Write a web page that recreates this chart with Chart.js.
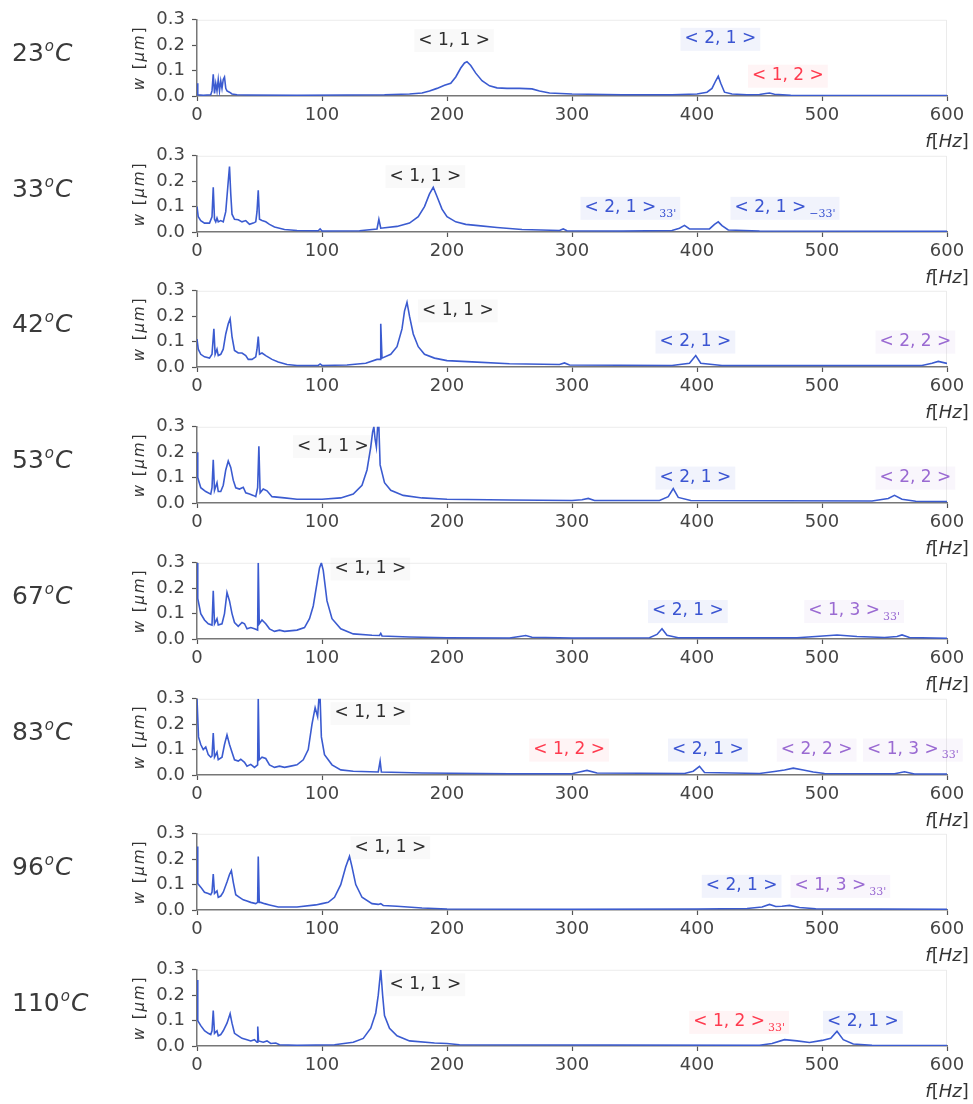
<!DOCTYPE html>
<html>
<head>
<meta charset="utf-8">
<script src="https://cdn.jsdelivr.net/npm/chart.js@4.4.0/dist/chart.umd.min.js"></script>
<style>
  body { margin: 0; background: #fff; }
  #wrap { position: relative; width: 973px; height: 1104px; }
  #wrap canvas { position: absolute; left: 0; }
</style>
</head>
<body>
<div id="wrap"></div>
<script>
// spectra, [f in Hz, w in um]
const s23 = [[0,0.05],[0.6,0.005],[5,0.003],[11,0.005],[12,0.02],[13,0.085],[14,0.01],[15,0.05],[16,0.02],[17,0.065],[18,0.02],[19,0.06],[20,0.03],[21,0.065],[22,0.075],[23,0.03],[24,0.02],[26,0.015],[28,0.008],[32,0.005],[40,0.004],[80,0.003],[120,0.004],[150,0.005],[170,0.008],[180,0.012],[186,0.02],[192,0.03],[198,0.042],[203,0.05],[207,0.075],[211,0.11],[214,0.13],[216,0.135],[219,0.12],[223,0.09],[228,0.06],[234,0.04],[240,0.032],[248,0.03],[258,0.03],[268,0.028],[274,0.02],[282,0.012],[300,0.008],[340,0.005],[380,0.005],[400,0.008],[408,0.015],[412,0.03],[415,0.06],[417,0.078],[419,0.05],[422,0.015],[428,0.008],[440,0.005],[450,0.006],[455,0.01],[458,0.012],[462,0.007],[475,0.003],[520,0.002],[600,0.002]];
const s33 = [[0,0.1],[1,0.06],[3,0.045],[6,0.035],[10,0.035],[12,0.06],[13,0.176],[14,0.05],[15,0.04],[16,0.055],[17,0.04],[19,0.045],[21,0.04],[23,0.08],[25,0.2],[26,0.258],[27,0.15],[28,0.07],[30,0.05],[33,0.048],[36,0.04],[39,0.045],[42,0.03],[45,0.035],[47,0.04],[48,0.08],[49,0.164],[50,0.05],[52,0.045],[55,0.04],[58,0.03],[62,0.02],[70,0.01],[80,0.006],[97,0.005],[98.5,0.012],[100,0.004],[130,0.005],[144,0.012],[145.5,0.05],[147,0.015],[160,0.022],[170,0.035],[177,0.06],[182,0.1],[186,0.15],[189,0.176],[192,0.14],[196,0.09],[200,0.06],[207,0.04],[215,0.03],[225,0.025],[240,0.018],[260,0.01],[290,0.006],[293,0.012],[296,0.005],[340,0.004],[380,0.006],[386,0.015],[390,0.026],[394,0.012],[410,0.012],[414,0.03],[417,0.04],[420,0.025],[425,0.008],[450,0.004],[600,0.003]];
const s42 = [[0,0.11],[1,0.07],[3,0.05],[6,0.04],[10,0.035],[12,0.05],[13.5,0.15],[14.5,0.05],[16,0.07],[17,0.045],[19,0.05],[21,0.07],[23,0.13],[25,0.17],[26.5,0.19],[28,0.12],[30,0.065],[33,0.055],[36,0.055],[39,0.045],[41,0.03],[44,0.03],[47,0.04],[48,0.07],[49,0.12],[50,0.05],[52,0.055],[55,0.045],[60,0.03],[65,0.02],[72,0.01],[80,0.006],[97,0.006],[98.5,0.012],[100,0.006],[120,0.008],[135,0.015],[144,0.03],[146.5,0.03],[147,0.17],[148,0.035],[155,0.05],[160,0.08],[164,0.15],[166,0.22],[168,0.255],[170,0.2],[173,0.13],[177,0.08],[182,0.05],[190,0.035],[200,0.025],[220,0.02],[250,0.013],[290,0.01],[294,0.016],[298,0.008],[380,0.006],[394,0.015],[399,0.045],[403,0.015],[420,0.006],[580,0.006],[588,0.015],[593,0.022],[600,0.014]];
const s53 = [[0,0.2],[0.6,0.1],[3,0.06],[7,0.045],[11,0.035],[12,0.06],[13,0.17],[14,0.05],[16,0.08],[17,0.045],[19,0.045],[21,0.07],[23,0.13],[25,0.165],[27,0.14],[29,0.09],[31,0.06],[34,0.055],[37,0.062],[39,0.04],[42,0.035],[45,0.03],[47,0.025],[48.5,0.06],[49.5,0.223],[50.5,0.04],[53,0.055],[56,0.048],[60,0.025],[70,0.02],[80,0.015],[100,0.015],[115,0.02],[125,0.035],[132,0.07],[136,0.13],[139,0.22],[140.5,0.28],[141.5,0.3],[142.5,0.25],[143.5,0.22],[144.5,0.3],[145.5,0.3],[146.5,0.15],[150,0.08],[155,0.05],[165,0.03],[180,0.02],[200,0.015],[250,0.012],[300,0.01],[308,0.013],[313,0.018],[318,0.01],[370,0.01],[377,0.025],[381,0.057],[385,0.022],[395,0.01],[540,0.008],[553,0.018],[558,0.03],[564,0.015],[575,0.007],[600,0.006]];
const s67 = [[0,0.3],[0.6,0.16],[3,0.1],[6,0.075],[9,0.06],[12,0.055],[13,0.19],[14,0.06],[16,0.08],[17,0.055],[20,0.06],[22,0.1],[24,0.183],[26,0.15],[28,0.1],[30,0.065],[33,0.05],[36,0.065],[38,0.06],[40,0.04],[43,0.045],[46,0.04],[48.5,0.035],[49,0.3],[49.8,0.06],[52,0.075],[55,0.06],[58,0.04],[62,0.03],[66,0.035],[70,0.03],[80,0.035],[86,0.045],[90,0.08],[93,0.13],[96,0.22],[98,0.28],[99.5,0.3],[101,0.27],[104,0.15],[108,0.08],[115,0.04],[125,0.02],[140,0.015],[146,0.014],[147,0.022],[148,0.012],[170,0.008],[200,0.005],[250,0.004],[258,0.01],[263,0.014],[268,0.007],[300,0.004],[362,0.005],[368,0.018],[372,0.04],[376,0.015],[385,0.005],[480,0.005],[495,0.01],[512,0.016],[528,0.01],[550,0.006],[560,0.01],[564,0.016],[570,0.006],[600,0.003]];
const s83 = [[0,0.3],[0.6,0.3],[1.2,0.15],[3,0.12],[5,0.1],[7,0.11],[9,0.08],[11,0.07],[12,0.075],[13,0.165],[14,0.07],[16,0.09],[17,0.06],[20,0.07],[22,0.12],[24,0.158],[26,0.12],[28,0.09],[30,0.06],[33,0.055],[35,0.062],[38,0.05],[40,0.035],[43,0.042],[46,0.03],[48.5,0.04],[49,0.3],[49.8,0.06],[52,0.07],[55,0.065],[58,0.04],[62,0.03],[66,0.035],[70,0.03],[75,0.035],[80,0.04],[85,0.06],[89,0.1],[92,0.2],[94.5,0.265],[96.5,0.23],[97.5,0.3],[98.5,0.3],[99.5,0.15],[102,0.08],[108,0.04],[115,0.02],[125,0.015],[145,0.012],[146.5,0.055],[147.5,0.012],[180,0.008],[250,0.005],[300,0.005],[306,0.012],[312,0.018],[320,0.008],[390,0.006],[397,0.015],[402,0.034],[406,0.01],[450,0.006],[462,0.014],[470,0.02],[477,0.027],[485,0.02],[493,0.012],[502,0.006],[558,0.005],[566,0.013],[574,0.004],[600,0.004]];
const s96 = [[0,0.25],[0.6,0.104],[3,0.09],[6,0.07],[9,0.065],[11,0.06],[12,0.07],[13,0.142],[14,0.065],[16,0.075],[17,0.05],[19,0.055],[21,0.07],[24,0.11],[26,0.14],[27.5,0.155],[29,0.11],[31,0.06],[34,0.05],[37,0.04],[40,0.035],[43,0.03],[47,0.025],[48.5,0.03],[49,0.211],[49.8,0.03],[51,0.03],[54,0.025],[58,0.02],[65,0.012],[80,0.012],[95,0.02],[100,0.025],[105,0.03],[110,0.05],[115,0.1],[119,0.17],[122,0.211],[124,0.17],[127,0.1],[132,0.05],[140,0.025],[145,0.022],[147,0.025],[149,0.018],[160,0.015],[180,0.008],[200,0.004],[300,0.003],[400,0.004],[440,0.006],[452,0.012],[458,0.022],[463,0.014],[468,0.015],[474,0.018],[482,0.01],[495,0.005],[600,0.003]];
const s110 = [[0,0.26],[0.6,0.1],[3,0.08],[6,0.06],[9,0.05],[11,0.045],[12,0.06],[13,0.14],[14,0.05],[16,0.06],[17,0.04],[19,0.045],[21,0.06],[24,0.09],[26.5,0.127],[28,0.09],[30,0.05],[33,0.04],[36,0.03],[40,0.025],[43,0.02],[46,0.025],[48,0.015],[48.6,0.077],[49.2,0.02],[53,0.015],[56,0.02],[59,0.01],[63,0.012],[66,0.005],[80,0.003],[110,0.005],[125,0.015],[133,0.03],[139,0.07],[143,0.13],[145,0.2],[147,0.3],[148.5,0.2],[150,0.12],[154,0.07],[160,0.04],[170,0.02],[190,0.012],[200,0.01],[210,0.005],[450,0.003],[460,0.01],[470,0.025],[480,0.02],[490,0.014],[500,0.022],[507,0.03],[512,0.058],[517,0.025],[525,0.008],[540,0.003],[600,0.002]];

// mode labels: [text, subscript, colour key, f at left edge, w at middle]
const ann23 = [['< 1, 1 >', '', 'k', 177, 0.22], ['< 2, 1 >', '', 'b', 390, 0.225], ['< 1, 2 >', '', 'r', 444, 0.08]];
const ann33 = [['< 1, 1 >', '', 'k', 154, 0.22], ['< 2, 1 >', "33'", 'b', 310, 0.095], ['< 2, 1 >', "\u221233'", 'b', 430, 0.095]];
const ann42 = [['< 1, 1 >', '', 'k', 180, 0.223], ['< 2, 1 >', '', 'b', 370, 0.1], ['< 2, 2 >', '', 'p', 546, 0.1]];
const ann53 = [['< 1, 1 >', '', 'k', 80, 0.224], ['< 2, 1 >', '', 'b', 370, 0.1], ['< 2, 2 >', '', 'p', 546, 0.1]];
const ann67 = [['< 1, 1 >', '', 'k', 110, 0.277], ['< 2, 1 >', '', 'b', 364, 0.11], ['< 1, 3 >', "33'", 'p', 489, 0.11]];
const ann83 = [['< 1, 1 >', '', 'k', 110, 0.244], ['< 1, 2 >', '', 'r', 269, 0.1], ['< 2, 1 >', '', 'b', 380, 0.1], ['< 2, 2 >', '', 'p', 467, 0.1], ['< 1, 3 >', "33'", 'p', 536, 0.1]];
const ann96 = [['< 1, 1 >', '', 'k', 126, 0.247], ['< 2, 1 >', '', 'b', 407, 0.095], ['< 1, 3 >', "33'", 'p', 478, 0.095]];
const ann110 = [['< 1, 1 >', '', 'k', 154, 0.243], ['< 1, 2 >', "33'", 'r', 397, 0.095], ['< 2, 1 >', '', 'b', 504, 0.095]];

const temps = ['23', '33', '42', '53', '67', '83', '96', '110'];
const series = [s23, s33, s42, s53, s67, s83, s96, s110];
const notes = [ann23, ann33, ann42, ann53, ann67, ann83, ann96, ann110];

const FONT = '"DejaVu Sans", sans-serif';
const inkColor = { k: '#2e2e2e', b: '#3b55d2', r: '#ff3a4e', p: '#9a6ad2' };
const tint = { k: 'rgba(0,0,0,0.025)', b: 'rgba(60,85,210,0.07)', r: 'rgba(255,60,80,0.06)', p: 'rgba(150,100,210,0.06)' };

// draw a list of [text, font] pieces one after another
function pieces(ctx, parts, x, y) {
  let w = 0;
  parts.forEach(p => { ctx.font = p[1]; w += ctx.measureText(p[0]).width; });
  let cx = x - w / 2;
  parts.forEach(p => { ctx.font = p[1]; ctx.fillText(p[0], cx, y); cx += ctx.measureText(p[0]).width; });
}

const decor = {
  id: 'decor',
  beforeDatasetsDraw(chart) {
    const { ctx, chartArea: a } = chart;
    ctx.save();
    ctx.strokeStyle = 'rgba(0,0,0,0.08)';
    ctx.lineWidth = 1;
    ctx.beginPath();
    ctx.moveTo(a.left, a.top + 0.5);
    ctx.lineTo(a.right - 0.5, a.top + 0.5);
    ctx.lineTo(a.right - 0.5, a.bottom);
    ctx.stroke();
    ctx.restore();
  },
  afterDraw(chart, args, opts) {
    const { ctx, chartArea: a, scales: { x, y } } = chart;
    const mid = (a.top + a.bottom) / 2;
    ctx.save();
    ctx.textAlign = 'left';

    // temperature
    ctx.fillStyle = '#3a3a3a';
    ctx.textBaseline = 'alphabetic';
    let tx = 12;
    const base = mid + 3;
    ctx.font = '25px ' + FONT;
    ctx.fillText(opts.temp, tx, base);
    tx += ctx.measureText(opts.temp).width + 1;
    ctx.font = 'italic 15px ' + FONT;
    ctx.fillText('o', tx, base - 10);
    tx += ctx.measureText('o').width + 1;
    ctx.font = 'italic 25px ' + FONT;
    ctx.fillText('C', tx, base);

    // y title
    ctx.save();
    ctx.translate(140, mid);
    ctx.rotate(-Math.PI / 2);
    ctx.fillStyle = '#333';
    ctx.textBaseline = 'middle';
    ctx.letterSpacing = '2px';
    pieces(ctx, [['w', 'italic 15px ' + FONT], [' [', '15px ' + FONT], ['\u03bcm', 'italic 15px ' + FONT], [']', '15px ' + FONT]], 0, 0);
    ctx.restore();

    // x title
    ctx.fillStyle = '#333';
    ctx.textBaseline = 'middle';
    pieces(ctx, [['f', 'italic 18px ' + FONT], ['[', '18px ' + FONT], ['Hz', 'italic 18px ' + FONT], [']', '18px ' + FONT]], a.right, a.bottom + 46);

    // mode labels
    opts.notes.forEach(([txt, sub, c, f, w]) => {
      const px = x.getPixelForValue(f);
      const py = y.getPixelForValue(w);
      ctx.font = '17px ' + FONT;
      const tw = ctx.measureText(txt).width;
      let sw = 0;
      if (sub) { ctx.font = '11px "DejaVu Serif", serif'; sw = ctx.measureText(sub).width + 3; }
      ctx.fillStyle = tint[c];
      ctx.fillRect(px - 4, py - 11, tw + sw + 8, 23);
      ctx.fillStyle = inkColor[c];
      ctx.textBaseline = 'middle';
      ctx.font = '17px ' + FONT;
      ctx.fillText(txt, px, py);
      if (sub) {
        ctx.font = '11px "DejaVu Serif", serif';
        ctx.fillText(sub, px + tw + 3, py + 6);
      }
    });
    ctx.restore();
  }
};

const wrap = document.getElementById('wrap');
const PAD_TOP = 14, PLOT_H = 80, X_AXIS_H = 30, PAD_BOTTOM = 26;

series.forEach((s, i) => {
  const cv = document.createElement('canvas');
  cv.width = 973;
  cv.height = PAD_TOP + PLOT_H + X_AXIS_H + PAD_BOTTOM;
  cv.style.top = Math.round(16 + i * 135.7 - PAD_TOP) + 'px';
  wrap.appendChild(cv);

  new Chart(cv, {
    type: 'line',
    data: {
      datasets: [{
        data: s.map(([f, w]) => ({ x: f, y: w })),
        borderColor: '#3b5bd0',
        borderWidth: 1.6,
        pointRadius: 0,
        tension: 0,
        fill: false
      }]
    },
    options: {
      responsive: false,
      animation: false,
      devicePixelRatio: 1,
      layout: { padding: { top: PAD_TOP, right: 26, bottom: PAD_BOTTOM, left: 0 } },
      plugins: {
        legend: { display: false },
        tooltip: { enabled: false },
        decor: { temp: temps[i], notes: notes[i] }
      },
      scales: {
        x: {
          type: 'linear', min: 0, max: 600,
          afterFit(sc) { sc.height = X_AXIS_H; },
          ticks: { stepSize: 100, color: '#444', font: { family: FONT, size: 18 }, padding: 4, maxRotation: 0 },
          grid: { drawOnChartArea: false, tickLength: 5, color: '#555', tickWidth: 1.2 },
          border: { color: '#777', width: 1.5 }
        },
        y: {
          min: 0, max: 0.3,
          afterFit(sc) { sc.width = 197; },
          ticks: { stepSize: 0.1, color: '#444', font: { family: FONT, size: 18 }, padding: 7, callback: v => v.toFixed(1) },
          grid: { drawOnChartArea: false, tickLength: 5, color: '#555', tickWidth: 1.2 },
          border: { color: '#777', width: 1.5 }
        }
      }
    },
    plugins: [decor]
  });
});
</script>
</body>
</html>
